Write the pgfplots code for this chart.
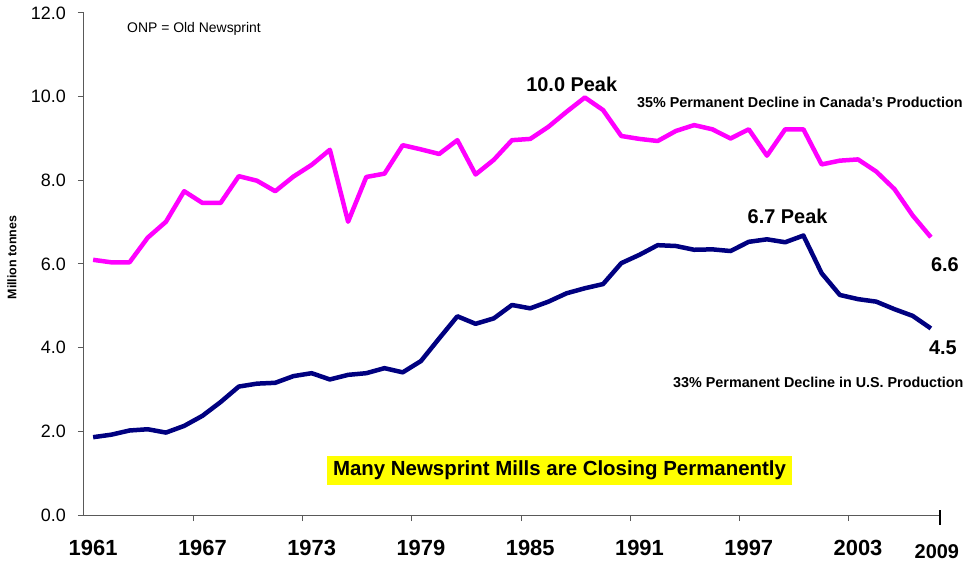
\documentclass[border=0pt]{standalone}
\usepackage{pgfplots}
\pgfplotsset{compat=1.18}
\usepackage{pgfplotstable}
\usepackage{fontspec}
\setmainfont{Liberation Sans}
\definecolor{canmag}{HTML}{FF00FF}
\definecolor{usnavy}{HTML}{000080}
\definecolor{hiyel}{HTML}{FFFF00}
\pgfplotstableread{
year can us
1961 6.10 1.86
1962 6.04 1.92
1963 6.04 2.02
1964 6.63 2.05
1965 7.01 1.97
1966 7.74 2.13
1967 7.46 2.37
1968 7.46 2.70
1969 8.10 3.07
1970 7.99 3.14
1971 7.74 3.16
1972 8.09 3.32
1973 8.37 3.39
1974 8.73 3.24
1975 7.01 3.35
1976 8.08 3.39
1977 8.16 3.51
1978 8.84 3.41
1979 8.74 3.68
1980 8.63 4.22
1981 8.96 4.75
1982 8.14 4.57
1983 8.49 4.70
1984 8.96 5.02
1985 8.99 4.94
1986 9.28 5.10
1987 9.64 5.30
1988 9.98 5.42
1989 9.68 5.52
1990 9.06 6.02
1991 8.99 6.22
1992 8.94 6.45
1993 9.18 6.43
1994 9.32 6.34
1995 9.22 6.35
1996 9.00 6.31
1997 9.22 6.53
1998 8.59 6.59
1999 9.22 6.52
2000 9.22 6.68
2001 8.38 5.78
2002 8.47 5.26
2003 8.50 5.16
2004 8.21 5.10
2005 7.79 4.92
2006 7.16 4.76
2007 6.64 4.46
}\datatable
\begin{document}
\begin{tikzpicture}
\path[use as bounding box] (-84bp,-47bp) rectangle (879bp,515bp);
\begin{axis}[
  scale only axis,
  width=856bp, height=502bp,
  xmin=-0.5, xmax=46.5,
  ymin=0, ymax=12,
  axis x line=bottom, axis y line=left,
  axis line style={-, gray!70!black, line width=1bp},
  clip=false,
  xtick={0,6,...,42},
  xticklabels={1961,1967,1973,1979,1985,1991,1997,2003},
  extra x ticks={5.5,11.5,17.5,23.5,29.5,35.5,41.5},
  extra x tick labels={},
  tick align=outside,
  x tick style={draw=none},
  extra x tick style={x tick style={draw=gray!70!black, line width=1bp}},
  ytick={0,2,...,12},
  major tick length=6bp,
  y tick style={gray!70!black, line width=1bp},
  /pgf/number format/assume math mode=true,
  yticklabel={\pgfmathprintnumber[fixed,fixed zerofill,precision=1]{\tick}},
  yticklabel style={font=\fontsize{18}{20}\selectfont, anchor=east, inner sep=0pt, xshift=-12bp},
  xticklabel style={font=\fontsize{22}{24}\selectfont\bfseries, anchor=north, inner sep=0pt, yshift=-19bp},
  ylabel={Million tonnes},
  ylabel style={font=\fontsize{12.5}{14}\selectfont\bfseries, at={(axis description cs:-0.0841,0.513)}, anchor=center},
]
\addplot[canmag, line width=4.5bp, line join=round] table[x expr=\thisrow{year}-1961, y=can] {\datatable};
\addplot[usnavy, line width=4.5bp, line join=round] table[x expr=\thisrow{year}-1961, y=us] {\datatable};
\draw[black, line width=2.5bp] ([yshift=5bp]axis cs:46.5,0) -- ([yshift=-10bp]axis cs:46.5,0);
\node[font=\fontsize{14}{16}\selectfont, anchor=west, inner sep=0pt] at (axis cs:1.86,11.62) {ONP = Old Newsprint};
\node[font=\fontsize{20}{22}\selectfont\bfseries] at (axis cs:26.28,10.30) {10.0 Peak};
\node[font=\fontsize{14.4}{16}\selectfont\bfseries, anchor=west, inner sep=0pt] at (axis cs:29.86,9.87) {35\% Permanent Decline in Canada's Production};
\node[font=\fontsize{20}{22}\selectfont\bfseries] at (axis cs:38.13,7.15) {6.7 Peak};
\node[font=\fontsize{20}{22}\selectfont\bfseries] at (axis cs:46.77,5.98) {6.6};
\node[font=\fontsize{20}{22}\selectfont\bfseries] at (axis cs:46.66,3.99) {4.5};
\node[font=\fontsize{14.4}{16}\selectfont\bfseries, anchor=west, inner sep=0pt] at (axis cs:31.84,3.18) {33\% Permanent Decline in U.S. Production};
\node[fill=hiyel, minimum width=465bp, minimum height=29bp, inner sep=0pt, font=\fontsize{20.5}{22}\selectfont\bfseries] at (axis cs:25.61,1.064) {Many Newsprint Mills are Closing Permanently};
\node[font=\fontsize{20}{22}\selectfont\bfseries, yshift=-36.7bp] at (axis cs:46.33,0) {2009};
\end{axis}
\end{tikzpicture}
\end{document}
